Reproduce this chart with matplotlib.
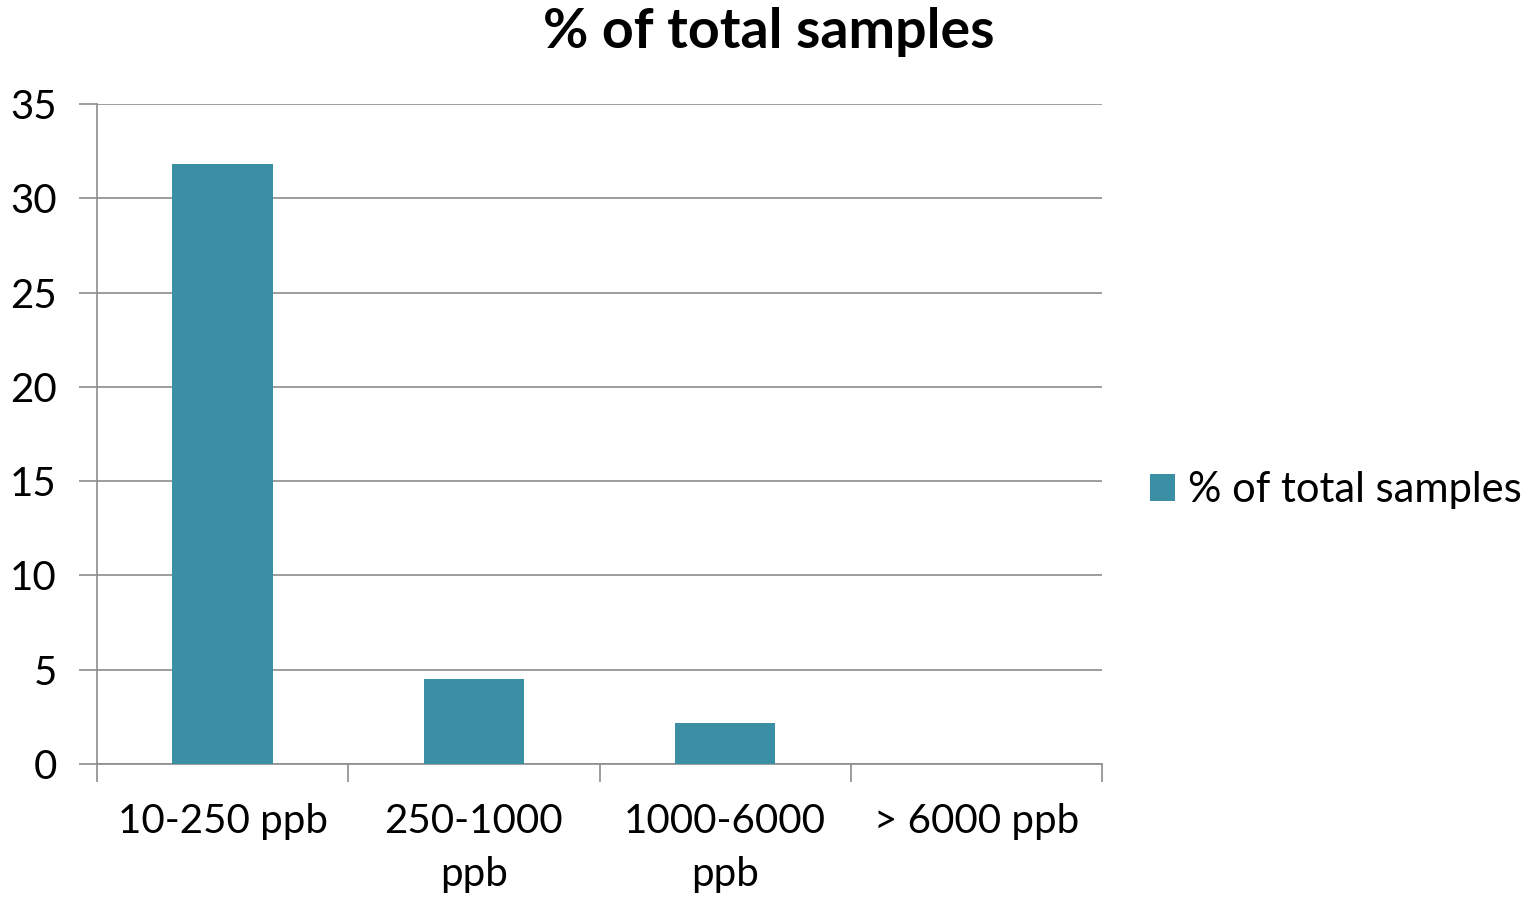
import matplotlib
matplotlib.use("Agg")
import matplotlib.pyplot as plt
from matplotlib.patches import Patch
import numpy as np

categories = ["10-250 ppb", "250-1000\nppb", "1000-6000\nppb", "> 6000 ppb"]
values = [31.8, 4.5, 2.2, 0.0]
series_name = "% of total samples"
title = "% of total samples"
yticks = [0, 5, 10, 15, 20, 25, 30, 35]

plt.rcParams['font.family'] = ['Lato', 'DejaVu Sans']
color = "#3A8FA5"
gridc = "#8C8C8C"

fig = plt.figure(figsize=(15.38, 9.0), dpi=100)
ax = fig.add_axes([97/1538, 1-764/900, (1102-97)/1538, (764-104)/900])

x = np.arange(len(categories))
ax.bar(x, values, width=0.4, color=color, zorder=3)
ax.set_xlim(-0.5, len(categories) - 0.5)
ax.set_ylim(0, 35)
ax.set_yticks(yticks)
ax.set_yticklabels([str(v) for v in yticks], fontsize=29)
ax.yaxis.grid(True, color=gridc, linewidth=1.2, zorder=0)
ax.set_axisbelow(True)

ax.set_xticks(x)
ax.set_xticklabels(categories, fontsize=29, linespacing=1.55, va='top')
ax.tick_params(axis='x', which='major', length=0, pad=28)
ax.set_xticks(np.arange(-0.5, len(categories)), minor=True)
ax.tick_params(axis='x', which='minor', length=13, width=1.2, color=gridc)
ax.tick_params(axis='y', length=13, width=1.2, color=gridc, pad=16)

for s in ['top', 'right']:
    ax.spines[s].set_visible(False)
for s in ['left', 'bottom']:
    ax.spines[s].set_color(gridc)
    ax.spines[s].set_linewidth(1.2)

fig.text(0.5, 1 - 32/900, title, ha='center', va='center', fontsize=40, fontweight='bold')

handle = Patch(facecolor=color, label=series_name)
fig.legend(handles=[handle], loc='center left', bbox_to_anchor=(1150/1538, 1 - 490/900),
           frameon=False, fontsize=30, handlelength=0.6, handleheight=0.6, handletextpad=0.3,
           borderpad=0, borderaxespad=0)

fig.savefig("out.png", dpi=100)
